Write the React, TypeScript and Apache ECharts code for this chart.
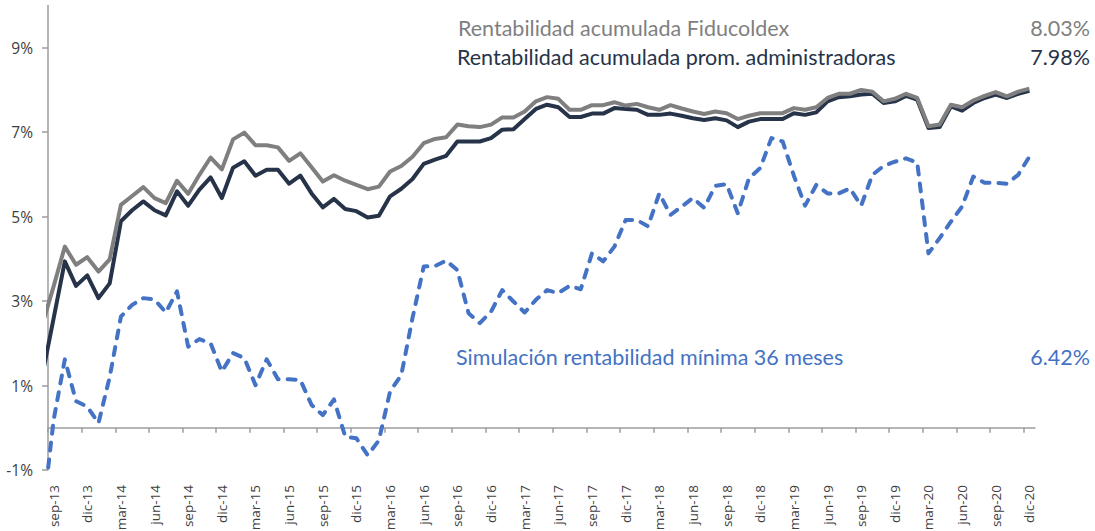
import React, { useEffect, useRef } from 'react';
import * as echarts from 'echarts';

// Months: index 0 = ago-13 (leading point, clipped at the axis start), then sep-13 ... dic-20
const monthNames = ['ene', 'feb', 'mar', 'abr', 'may', 'jun', 'jul', 'ago', 'sep', 'oct', 'nov', 'dic'];
const categories: string[] = [];
for (let y = 13; y <= 20; y++) {
  for (let m = 0; m < 12; m++) {
    if (y === 13 && m < 7) continue;
    categories.push(`${monthNames[m]}-${y}`);
  }
}

const fiducoldex = [
  2.45,
  3.35, 4.29, 3.86, 4.04, 3.70, 3.99, 5.28, 5.49, 5.70, 5.44, 5.32, 5.85,
  5.54, 5.99, 6.40, 6.12, 6.83, 6.99, 6.69, 6.69, 6.64, 6.32, 6.50, 6.17,
  5.83, 5.98, 5.85, 5.75, 5.65, 5.71, 6.07, 6.20, 6.42, 6.74, 6.84, 6.88,
  7.18, 7.14, 7.12, 7.18, 7.35, 7.35, 7.49, 7.73, 7.83, 7.79, 7.53, 7.53,
  7.64, 7.64, 7.71, 7.63, 7.67, 7.59, 7.53, 7.64, 7.56, 7.49, 7.43, 7.49,
  7.45, 7.31, 7.39, 7.45, 7.45, 7.45, 7.57, 7.53, 7.59, 7.81, 7.91, 7.91,
  8.00, 7.96, 7.73, 7.79, 7.91, 7.81, 7.14, 7.18, 7.65, 7.59, 7.75, 7.86,
  7.95, 7.85, 7.96, 8.03,
];

const promAdministradoras = [
  1.25,
  2.59, 3.94, 3.36, 3.61, 3.07, 3.42, 4.89, 5.15, 5.36, 5.15, 5.03, 5.60,
  5.26, 5.64, 5.93, 5.44, 6.16, 6.31, 5.97, 6.11, 6.11, 5.78, 5.97, 5.55,
  5.22, 5.42, 5.18, 5.13, 4.98, 5.02, 5.48, 5.66, 5.89, 6.25, 6.35, 6.44,
  6.78, 6.78, 6.78, 6.86, 7.06, 7.07, 7.31, 7.55, 7.65, 7.59, 7.36, 7.36,
  7.44, 7.44, 7.57, 7.55, 7.53, 7.41, 7.41, 7.44, 7.39, 7.33, 7.29, 7.33,
  7.28, 7.12, 7.25, 7.31, 7.31, 7.31, 7.45, 7.41, 7.47, 7.73, 7.83, 7.85,
  7.89, 7.91, 7.69, 7.73, 7.86, 7.77, 7.10, 7.12, 7.61, 7.51, 7.69, 7.81,
  7.89, 7.81, 7.91, 7.98,
];

const simulacionMinima = [
  -2.14,
  0.18, 1.62, 0.63, 0.50, 0.11, 1.20, 2.63, 2.91, 3.07, 3.04, 2.73, 3.23,
  1.92, 2.10, 2.00, 1.33, 1.77, 1.65, 1.01, 1.62, 1.15, 1.15, 1.13, 0.54,
  0.30, 0.67, -0.21, -0.25, -0.65, -0.30, 0.86, 1.25, 2.60, 3.82, 3.83, 3.96,
  3.73, 2.71, 2.48, 2.75, 3.26, 2.99, 2.73, 3.03, 3.26, 3.19, 3.36, 3.28,
  4.13, 3.94, 4.29, 4.92, 4.92, 4.77, 5.55, 5.04, 5.24, 5.44, 5.21, 5.73,
  5.77, 5.08, 5.91, 6.15, 6.86, 6.78, 5.97, 5.26, 5.75, 5.55, 5.55, 5.67,
  5.26, 5.99, 6.20, 6.30, 6.38, 6.28, 4.13, 4.49, 4.88, 5.24, 5.95, 5.80,
  5.80, 5.78, 5.99, 6.42,
];

const yTickValues = [-1, 1, 3, 5, 7, 9];

const legendTitles = [
  'Rentabilidad acumulada Fiducoldex',
  'Rentabilidad acumulada prom. administradoras',
  'Simulación rentabilidad mínima 36 meses',
];
const legendValues = ['8.03%', '7.98%', '6.42%'];

const COLORS = {
  gray: '#7f7f7f',
  dark: '#263349',
  blue: '#4472c4',
  axis: '#9d9d9d',
  label: '#404040',
};

export default function App() {
  const ref = useRef<HTMLDivElement>(null);

  useEffect(() => {
    if (!ref.current) return;
    const chart = echarts.init(ref.current, null, { renderer: 'svg' });

    const labelIdx = categories.map((_, i) => i).filter((i) => i >= 1 && (i - 1) % 3 === 0);
    const tickIdx = labelIdx.map((i) => i - 0.5);
    const toPairs = (arr: number[]) => arr.map((v, i) => [i, v]);

    const titleFont = 'Lato, "Open Sans", sans-serif';
    const titleSize = 21.5;

    chart.setOption({
      animation: false,
      grid: { left: 48, right: 60, top: 5.5, bottom: 61, containLabel: false, outerBoundsMode: 'none' },
      xAxis: {
        type: 'value',
        min: 0.5,
        max: categories.length - 0.5,
        splitLine: { show: false },
        axisLine: { show: true, onZero: true, lineStyle: { color: COLORS.axis, width: 1.5 } },
        axisTick: { show: true, length: 5, customValues: tickIdx, lineStyle: { color: COLORS.axis, width: 1.5 } },
        axisLabel: {
          show: true,
          customValues: labelIdx,
          rotate: 90,
          margin: 15,
          color: COLORS.label,
          fontSize: 13.5,
          fontFamily: '"Open Sans", sans-serif',
          padding: [6, 0, 0, 0],
          formatter: (v: number) => categories[Math.round(v)] ?? '',
        },
      },
      yAxis: {
        type: 'value',
        min: -1,
        max: 10,
        splitLine: { show: false },
        axisLine: { show: true, onZero: false, lineStyle: { color: COLORS.axis, width: 1.5 } },
        axisTick: { show: true, length: 6, customValues: yTickValues, lineStyle: { color: COLORS.axis, width: 1.5 } },
        axisLabel: {
          show: true,
          customValues: yTickValues,
          margin: 15,
          color: COLORS.label,
          fontSize: 15.5,
          fontFamily: '"Open Sans", sans-serif',
          formatter: (v: number) => `${v}%`,
        },
      },
      series: [
        {
          name: legendTitles[1],
          type: 'line',
          data: toPairs(promAdministradoras),
          symbol: 'none',
          clip: true,
          lineStyle: { color: COLORS.dark, width: 4, join: 'round' },
        },
        {
          name: legendTitles[0],
          type: 'line',
          data: toPairs(fiducoldex),
          symbol: 'none',
          clip: true,
          lineStyle: { color: COLORS.gray, width: 4, join: 'round' },
        },
        {
          name: legendTitles[2],
          type: 'line',
          data: toPairs(simulacionMinima),
          symbol: 'none',
          clip: true,
          lineStyle: { color: COLORS.blue, width: 4, type: [8, 9], cap: 'round', join: 'round' },
        },
      ],
      graphic: [
        {
          type: 'text', x: 458, y: 28,
          style: { text: legendTitles[0], fill: COLORS.gray, fontSize: titleSize, fontFamily: titleFont, align: 'left', verticalAlign: 'middle', textAlign: 'left', textVerticalAlign: 'middle' },
        },
        {
          type: 'text', x: 1090, y: 28,
          style: { text: legendValues[0], fill: COLORS.gray, fontSize: titleSize, fontFamily: titleFont, align: 'right', verticalAlign: 'middle', textAlign: 'right', textVerticalAlign: 'middle' },
        },
        {
          type: 'text', x: 457, y: 57,
          style: { text: legendTitles[1], fill: COLORS.dark, fontSize: titleSize, fontFamily: titleFont, align: 'left', verticalAlign: 'middle', textAlign: 'left', textVerticalAlign: 'middle' },
        },
        {
          type: 'text', x: 1090, y: 57,
          style: { text: legendValues[1], fill: COLORS.dark, fontSize: titleSize, fontFamily: titleFont, align: 'right', verticalAlign: 'middle', textAlign: 'right', textVerticalAlign: 'middle' },
        },
        {
          type: 'text', x: 456, y: 357,
          style: { text: legendTitles[2], fill: COLORS.blue, fontSize: titleSize, fontFamily: titleFont, align: 'left', verticalAlign: 'middle', textAlign: 'left', textVerticalAlign: 'middle' },
        },
        {
          type: 'text', x: 1090, y: 357,
          style: { text: legendValues[2], fill: COLORS.blue, fontSize: titleSize, fontFamily: titleFont, align: 'right', verticalAlign: 'middle', textAlign: 'right', textVerticalAlign: 'middle' },
        },
      ],
    });

    return () => chart.dispose();
  }, []);

  return (
    <div
      ref={ref}
      style={{ position: 'fixed', left: 0, top: 0, width: 1095, height: 531, background: '#ffffff' }}
    />
  );
}
